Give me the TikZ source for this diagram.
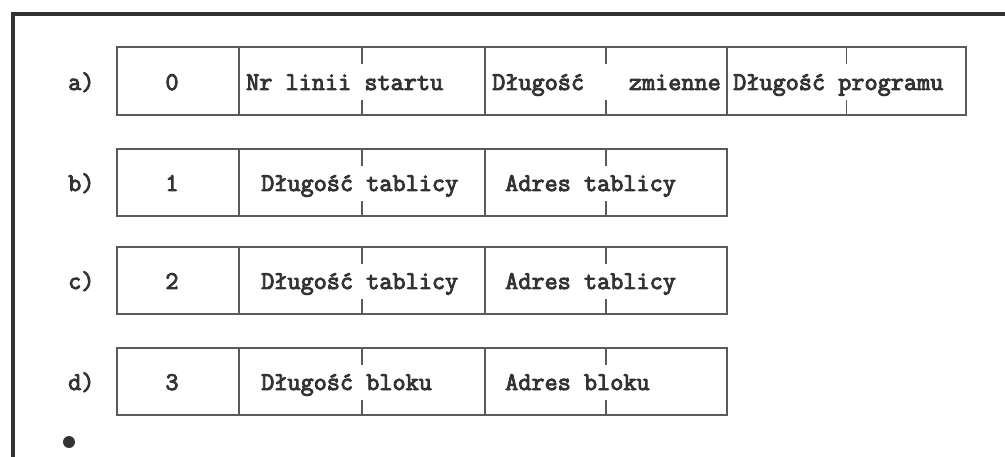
\documentclass[tikz,border=0pt]{standalone}
\usepackage{fontspec}
\newfontfamily\cour{Latin Modern Mono}[FakeBold=3.5,BoldFont={Latin Modern Mono},BoldFeatures={FakeBold=3.5}]
\definecolor{ink}{HTML}{333333}
\definecolor{rule}{HTML}{5A5A5A}
\begin{document}
\begin{tikzpicture}[x=1pt,y=-1pt,
  cell/.style={draw=rule, line width=1.3pt, anchor=north west, inner sep=0pt, outer sep=0pt},
  txt/.style={font=\cour\bfseries\fontsize{25.5}{27}\selectfont, text=ink, inner sep=0pt, anchor=base west},
  tick/.style={draw=rule, line width=1.3pt}]
\useasboundingbox (0,0) rectangle (1005,457);
\fill[white] (0,0) rectangle (1005,457);
% frame
\draw[ink, line width=3.5pt] (13,457) -- (13,14) -- (1005,14);
% row a
\node[cell, minimum width=122pt, minimum height=68pt] (a1) at (117,47) {};
\node[cell, minimum width=246pt, minimum height=68pt] (a2) at (239,47) {};
\node[cell, minimum width=242pt, minimum height=68pt] (a3) at (485,47) {};
\node[cell, minimum width=239pt, minimum height=68pt] (a4) at (727,47) {};
\foreach \c in {a2,a3,a4} {\draw[tick] (\c.north) -- ++(0,17); \draw[tick] (\c.south) -- ++(0,-15);}
\node[txt] (la) at (68,90) {a)};
\node[txt, anchor=base] (ta1) at (172,90) {0};
\node[txt] (ta2) at (246,90) {Nr linii startu};
\node[txt] (ta3) at (492,90) {Długość};
\node[txt, anchor=base east] (ta3b) at (721,90) {zmienne};
\node[txt] (ta4) at (733,90) {Długość programu};
% rows b, c, d
\foreach \r/\top/\num/\ta/\tb in {b/149/1/Długość tablicy/Adres tablicy, c/247/2/Długość tablicy/Adres tablicy, d/348/3/Długość bloku/Adres bloku} {
  \node[cell, minimum width=122pt, minimum height=67pt] (\r1) at (117,\top) {};
  \node[cell, minimum width=246pt, minimum height=67pt] (\r2) at (239,\top) {};
  \node[cell, minimum width=242pt, minimum height=67pt] (\r3) at (485,\top) {};
  \draw[tick] (\r2.north) -- ++(0,17); \draw[tick] (\r2.south) -- ++(0,-15);
  \draw[tick] (\r3.north) -- ++(0,17); \draw[tick] (\r3.south) -- ++(0,-15);
  \node[txt] (l\r) at (68,\top+42) {\r)};
  \node[txt, anchor=base] (t\r1) at (172,\top+42) {\num};
  \node[txt] (t\r2) at (261,\top+42) {\ta};
  \node[txt] (t\r3) at (505,\top+42) {\tb};
}
% bullet
\fill[ink] (69,442) circle (6);
\end{tikzpicture}
\end{document}
